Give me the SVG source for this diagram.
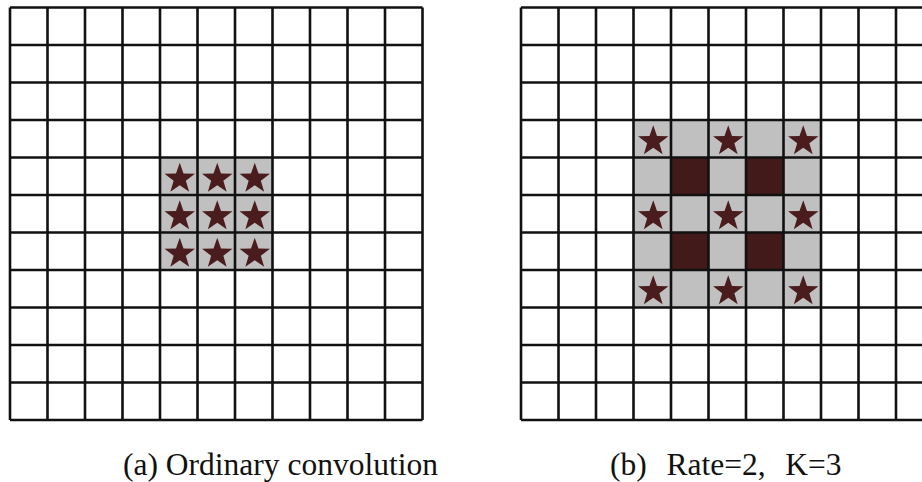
<svg xmlns="http://www.w3.org/2000/svg" width="922" height="482" viewBox="0 0 922 482">
<style>
.grid{fill:none;stroke:#111;stroke-width:2.6}
.gray{fill:#c0c0c0}
.dark{fill:#421a1a}
.star{fill:#4a1c1e}
</style>
<defs>
<path id="star" d="M0,-16 L3.76,-5.18 L15.22,-4.94 L6.09,1.98 L9.40,12.94 L0,6.4 L-9.40,12.94 L-6.09,1.98 L-15.22,-4.94 L-3.76,-5.18 Z"/>
</defs>
<rect width="922" height="482" fill="#fff"/>
<g id="grid-a">
<rect class="gray" x="160" y="157.5" width="112.5" height="112.5"/>
<path class="grid" d="M10,7.5V420M47.5,7.5V420M85,7.5V420M122.5,7.5V420M160,7.5V420M197.5,7.5V420M235,7.5V420M272.5,7.5V420M310,7.5V420M347.5,7.5V420M385,7.5V420M422.5,7.5V420M10,7.5H422.5M10,45H422.5M10,82.5H422.5M10,120H422.5M10,157.5H422.5M10,195H422.5M10,232.5H422.5M10,270H422.5M10,307.5H422.5M10,345H422.5M10,382.5H422.5M10,420H422.5"/>
<g class="star">
<use href="#star" x="179.75" y="178.75"/>
<use href="#star" x="217.25" y="178.75"/>
<use href="#star" x="254.75" y="178.75"/>
<use href="#star" x="179.75" y="216.25"/>
<use href="#star" x="217.25" y="216.25"/>
<use href="#star" x="254.75" y="216.25"/>
<use href="#star" x="179.75" y="253.75"/>
<use href="#star" x="217.25" y="253.75"/>
<use href="#star" x="254.75" y="253.75"/>
</g>
</g>
<g id="grid-b">
<rect class="gray" x="633.5" y="120" width="187.5" height="187.5"/>
<rect class="dark" x="671" y="157.5" width="37.5" height="37.5"/>
<rect class="dark" x="746" y="157.5" width="37.5" height="37.5"/>
<rect class="dark" x="671" y="232.5" width="37.5" height="37.5"/>
<rect class="dark" x="746" y="232.5" width="37.5" height="37.5"/>
<path class="grid" d="M521,7.5V420M558.5,7.5V420M596,7.5V420M633.5,7.5V420M671,7.5V420M708.5,7.5V420M746,7.5V420M783.5,7.5V420M821,7.5V420M858.5,7.5V420M896,7.5V420M933.5,7.5V420M521,7.5H933.5M521,45H933.5M521,82.5H933.5M521,120H933.5M521,157.5H933.5M521,195H933.5M521,232.5H933.5M521,270H933.5M521,307.5H933.5M521,345H933.5M521,382.5H933.5M521,420H933.5"/>
<g class="star">
<use href="#star" x="653.25" y="141.25"/>
<use href="#star" x="728.25" y="141.25"/>
<use href="#star" x="803.25" y="141.25"/>
<use href="#star" x="653.25" y="216.25"/>
<use href="#star" x="728.25" y="216.25"/>
<use href="#star" x="803.25" y="216.25"/>
<use href="#star" x="653.25" y="291.25"/>
<use href="#star" x="728.25" y="291.25"/>
<use href="#star" x="803.25" y="291.25"/>
</g>
</g>
<g id="captions" fill="#111">
<text x="123" y="475" font-family="Liberation Serif" font-size="31.5">(a) Ordinary convolution</text>
<text x="610" y="475" font-family="Liberation Serif" font-size="31.5" style="white-space:pre" word-spacing="2">(b)  Rate=2,  K=3</text>
</g>
</svg>
